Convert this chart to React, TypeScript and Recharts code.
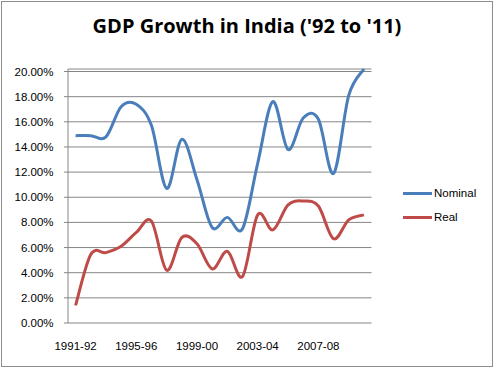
import React from 'react';
import { LineChart, Line, XAxis, YAxis, CartesianGrid, Legend } from 'recharts';

const years = [
  '1991-92', '1992-93', '1993-94', '1994-95', '1995-96', '1996-97', '1997-98', '1998-99', '1999-00', '2000-01',
  '2001-02', '2002-03', '2003-04', '2004-05', '2005-06', '2006-07', '2007-08', '2008-09', '2009-10', '2010-11',
];
const nominal = [14.9, 14.9, 14.8, 17.2, 17.4, 15.7, 10.7, 14.6, 11.4, 7.6, 8.4, 7.5, 12.7, 17.6, 13.8, 16.3, 16.2, 11.9, 18.1, 20.2];
const real = [1.4, 5.45, 5.6, 6.1, 7.2, 8.1, 4.2, 6.8, 6.3, 4.3, 5.7, 3.7, 8.6, 7.4, 9.4, 9.7, 9.3, 6.7, 8.2, 8.6];
const yTicks = [0, 2, 4, 6, 8, 10, 12, 14, 16, 18, 20];
const boundaryTicks = Array.from({ length: years.length + 1 }, (_, i) => i);

const data = years.map((year, i) => ({ year, idx: i, Nominal: nominal[i], Real: real[i] }));

// Excel-like smoothed line (Catmull-Rom through every point)
function excelCurve(context: any) {
  let pts: number[][] = [];
  return {
    areaStart() {},
    areaEnd() {},
    lineStart() { pts = []; },
    point(x: number, y: number) { pts.push([+x, +y]); },
    lineEnd() {
      const n = pts.length;
      if (!n) return;
      context.moveTo(pts[0][0], pts[0][1]);
      for (let i = 0; i < n - 1; i++) {
        const p0 = pts[Math.max(i - 1, 0)];
        const p1 = pts[i];
        const p2 = pts[i + 1];
        const p3 = pts[Math.min(i + 2, n - 1)];
        context.bezierCurveTo(
          p1[0] + (p2[0] - p0[0]) / 6, p1[1] + (p2[1] - p0[1]) / 6,
          p2[0] - (p3[0] - p1[0]) / 6, p2[1] - (p3[1] - p1[1]) / 6,
          p2[0], p2[1]
        );
      }
    },
  };
}

const FONT = '"Liberation Sans", Arial, sans-serif';
const GRID = '#868686';

const LegendContent = (props: any) => {
  const { payload } = props;
  return (
    <div style={{ fontFamily: FONT, fontSize: 11.5, color: '#000' }}>
      {(payload || []).map((p: any) => (
        <div key={p.value} style={{ display: 'flex', alignItems: 'center', height: 24 }}>
          <div style={{ width: 29, height: 3, background: p.color }} />
          <span style={{ marginLeft: 2 }}>{p.value}</span>
        </div>
      ))}
    </div>
  );
};

export default function App() {
  return (
    <div style={{ position: 'fixed', left: 0, top: 0, width: 494, height: 369, background: '#fff' }}>
      <div
        style={{
          position: 'absolute', left: 1, top: 1, width: 492, height: 366,
          border: '1px solid #8c8c8c', boxSizing: 'border-box',
        }}
      />
      <div
        style={{
          position: 'absolute', left: 0, top: 12, width: 494, textAlign: 'center',
          fontFamily: '"Open Sans", sans-serif', fontWeight: 700, fontSize: 20, color: '#000',
        }}
      >
        GDP Growth in India ('92 to '11)
      </div>
      <div style={{ position: 'absolute', left: 0, top: 0 }}>
        <LineChart width={494} height={369} data={data} margin={{ top: 69, right: 32.5, bottom: 16, left: 0 }}>
          <CartesianGrid vertical={false} stroke={GRID} strokeDasharray="" />
          <XAxis
            xAxisId="b"
            type="number"
            dataKey="idx"
            domain={[0, years.length]}
            allowDataOverflow
            ticks={boundaryTicks}
            tickFormatter={() => ''}
            tickSize={5}
            height={0}
            stroke={GRID}
            axisLine={{ stroke: GRID }}
            tickLine={{ stroke: GRID }}
          />
          <XAxis
            dataKey="year"
            interval={3}
            padding={{ left: 7.59, right: 7.59 }}
            axisLine={false}
            tickLine={false}
            tickSize={0}
            tickMargin={19}
            height={30}
            tick={{ fontFamily: FONT, fontSize: 11.5, fill: '#000' }}
          />
          <YAxis
            domain={[0, 20]}
            ticks={yTicks}
            interval={0}
            width={68}
            tickFormatter={(v: number) => v.toFixed(2) + '%'}
            tickSize={4}
            tickMargin={10.5}
            axisLine={{ stroke: GRID }}
            tickLine={{ stroke: GRID }}
            tick={{ fontFamily: FONT, fontSize: 11.5, fill: '#000' }}
          />
          <Legend
            layout="vertical"
            align="right"
            verticalAlign="top"
            width={90}
            content={<LegendContent />}
            wrapperStyle={{ left: 403, top: 181, right: 'auto', width: 90 }}
          />
          <Line
            dataKey="Nominal"
            type={excelCurve as any}
            stroke="#4A7EBB"
            strokeWidth={3}
            dot={false}
            activeDot={false}
            isAnimationActive={false}
          />
          <Line
            dataKey="Real"
            type={excelCurve as any}
            stroke="#BE4B48"
            strokeWidth={3}
            dot={false}
            activeDot={false}
            isAnimationActive={false}
          />
        </LineChart>
      </div>
    </div>
  );
}
